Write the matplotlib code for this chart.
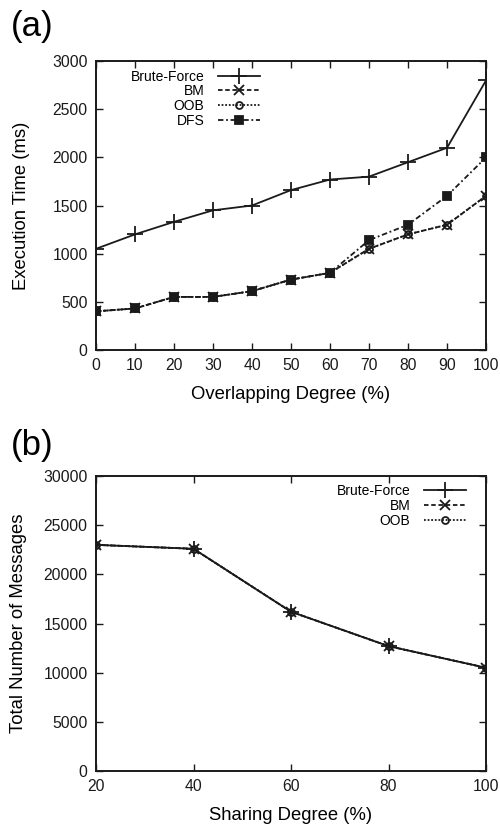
import numpy as np
import matplotlib
matplotlib.use('Agg')
import matplotlib.pyplot as plt

plt.rcParams['font.family'] = ['Liberation Sans', 'DejaVu Sans']

# (a) execution time vs overlapping degree
overlap = [0, 10, 20, 30, 40, 50, 60, 70, 80, 90, 100]
brute_a = [1050, 1200, 1330, 1450, 1500, 1660, 1770, 1800, 1950, 2100, 2800]
bm_a = [400, 430, 550, 550, 610, 730, 800, 1050, 1200, 1300, 1600]
oob_a = [400, 430, 550, 550, 610, 730, 800, 1050, 1200, 1300, 1600]
dfs_a = [400, 430, 550, 550, 610, 730, 800, 1140, 1300, 1600, 2000]

# (b) total messages vs sharing degree
sharing = [20, 40, 60, 80, 100]
brute_b = [23000, 22600, 16200, 12700, 10500]
bm_b = [23000, 22600, 16200, 12700, 10500]
oob_b = [23000, 22600, 16200, 12700, 10500]

fig = plt.figure(figsize=(5, 8.27), dpi=100)
ax1 = fig.add_axes([0.192, 0.577, 0.78, 0.349])
ax2 = fig.add_axes([0.192, 0.0677, 0.78, 0.3567])

k = '#1a1a1a'
def draw(ax, x, series):
    for y, lab, ls, mk, ms, mfc in series:
        ax.plot(x, y, linestyle=ls, color=k, linewidth=1.3, marker=mk,
                markersize=ms, markerfacecolor=mfc, markeredgecolor=k,
                markeredgewidth=1.3, label=lab)

draw(ax1, overlap, [
    (brute_a, 'Brute-Force', '-', '+', 12, k),
    (bm_a, 'BM', (0, (2.5, 1.5)), 'x', 7, k),
    (oob_a, 'OOB', (0, (1, 1)), 'o', 5, 'none'),
    (dfs_a, 'DFS', (0, (3, 1.5, 1, 1.5)), 's', 6, k),
])
draw(ax2, sharing, [
    (brute_b, 'Brute-Force', '-', '+', 12, k),
    (bm_b, 'BM', (0, (2.5, 1.5)), 'x', 7, k),
    (oob_b, 'OOB', (0, (1, 1)), 'o', 5, 'none'),
])

ax1.set_xlim(0, 100)
ax1.set_ylim(0, 3000)
ax1.set_xticks(overlap)
ax1.set_yticks(np.arange(0, 3001, 500))
ax1.set_xlabel('Overlapping Degree (%)', fontsize=13.3, labelpad=9)
ax1.set_ylabel('Execution Time (ms)', fontsize=13.3, labelpad=16)

ax2.set_xlim(20, 100)
ax2.set_ylim(0, 30000)
ax2.set_xticks(sharing)
ax2.set_yticks(np.arange(0, 30001, 5000))
ax2.set_xlabel('Sharing Degree (%)', fontsize=13.3, labelpad=9)
ax2.set_ylabel('Total Number of Messages', fontsize=13.3, labelpad=12)

for ax in (ax1, ax2):
    ax.tick_params(direction='in', top=True, right=True, labelsize=11.3,
                   length=5, width=1, colors=k, pad=6)
    for s in ax.spines.values():
        s.set_linewidth(1.4)
        s.set_color(k)

ax1.legend(loc='upper left', markerfirst=False, frameon=False, fontsize=10,
           handlelength=3.0, labelspacing=0.05, borderaxespad=0.2,
           handletextpad=1.0, bbox_to_anchor=(0.068, 1.0))
ax2.legend(loc='upper right', markerfirst=False, frameon=False, fontsize=10,
           handlelength=3.0, labelspacing=0.05, borderaxespad=0.2,
           handletextpad=1.0, bbox_to_anchor=(0.97, 1.0))

fig.text(0.022, 1 - 10 / 827, '(a)', fontsize=25, va='top', ha='left')
fig.text(0.022, 1 - 429 / 827, '(b)', fontsize=25, va='top', ha='left')

fig.savefig('out.png', dpi=100)
